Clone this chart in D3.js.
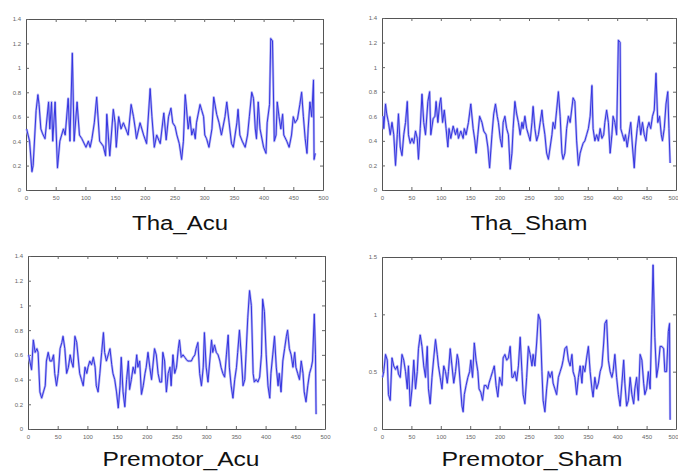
<!DOCTYPE html>
<html>
<head>
<meta charset="utf-8">
<script src="https://cdn.jsdelivr.net/npm/d3@7"></script>
<style>
  body { margin: 0; background: #fff; }
  svg { display: block; }
</style>
</head>
<body>
<script>
// values (x = sample index, y = amplitude)
var thaAcuX = [1,6,10,12,17,20,22,25,28,32,38,40,43,45,49,53,57,60,63,66,71,74,78,81,86,90,94,101,105,108,111,115,119,124,130,134,136,141,147,150,152,156,160,164,168,172,177,181,184,186,192,198,203,209,212,216,220,226,232,236,240,244,247,251,254,258,262,265,268,270,273,276,279,282,285,287,293,296,299,301,304,308,313,316,321,325,329,335,338,342,346,349,355,357,360,364,369,373,376,380,383,386,388,391,394,400,404,406,410,412,415,418,421,423,426,429,432,434,439,443,447,450,453,457,461,464,467,470,473,475,478,481,484,485,487];
var thaAcuY = [0.5,0.4,0.15,0.2,0.65,0.78,0.7,0.5,0.46,0.42,0.72,0.5,0.72,0.4,0.72,0.18,0.4,0.45,0.5,0.45,0.75,0.4,1.12,0.4,0.72,0.45,0.42,0.35,0.4,0.35,0.42,0.55,0.76,0.4,0.36,0.28,0.62,0.28,0.66,0.55,0.35,0.6,0.5,0.55,0.5,0.45,0.7,0.6,0.5,0.42,0.55,0.45,0.38,0.83,0.6,0.35,0.45,0.38,0.63,0.41,0.6,0.67,0.55,0.52,0.45,0.38,0.25,0.4,0.78,0.68,0.5,0.6,0.45,0.5,0.42,0.55,0.7,0.65,0.6,0.45,0.42,0.35,0.5,0.76,0.62,0.55,0.45,0.6,0.72,0.55,0.38,0.35,0.55,0.66,0.45,0.4,0.35,0.45,0.6,0.8,0.75,0.5,0.42,0.72,0.5,0.35,0.3,0.55,0.7,1.24,1.22,0.4,0.45,0.72,0.6,0.5,0.62,0.45,0.4,0.35,0.45,0.6,0.55,0.58,0.7,0.8,0.6,0.42,0.3,0.5,0.72,0.6,0.9,0.25,0.3];

var thaShamX = [2,3,6,8,11,14,17,20,23,26,28,31,34,37,40,43,45,48,51,54,57,60,62,65,68,71,74,78,81,83,87,90,92,95,98,100,103,106,109,112,114,117,121,125,128,130,134,138,140,143,147,151,155,158,160,163,166,170,173,177,180,183,187,190,193,196,198,201,204,206,209,212,215,218,221,223,226,229,232,235,238,240,243,246,249,252,255,257,260,263,266,269,272,274,277,280,283,286,289,291,294,297,300,303,306,308,311,314,317,320,325,328,331,334,337,340,342,345,348,351,354,357,359,362,365,368,371,374,377,379,382,385,388,391,393,396,399,402,405,406,409,412,414,417,420,423,426,429,431,434,437,440,443,446,449,451,454,457,460,463,466,469,472,475,477,480,483,486,488,490];
var thaShamY = [0.6,0.5,0.7,0.62,0.55,0.45,0.55,0.45,0.2,0.45,0.62,0.35,0.28,0.45,0.55,0.72,0.45,0.38,0.42,0.38,0.48,0.42,0.25,0.5,0.78,0.55,0.45,0.72,0.8,0.45,0.58,0.6,0.72,0.55,0.7,0.75,0.55,0.65,0.5,0.35,0.5,0.42,0.52,0.45,0.5,0.42,0.48,0.42,0.5,0.45,0.55,0.7,0.5,0.4,0.3,0.45,0.6,0.55,0.48,0.45,0.35,0.18,0.45,0.62,0.7,0.6,0.55,0.42,0.35,0.55,0.6,0.5,0.45,0.17,0.3,0.5,0.72,0.62,0.55,0.45,0.55,0.5,0.6,0.5,0.45,0.4,0.55,0.68,0.5,0.4,0.45,0.55,0.65,0.55,0.45,0.3,0.25,0.35,0.45,0.55,0.5,0.65,0.8,0.6,0.3,0.25,0.3,0.5,0.6,0.55,0.75,0.72,0.4,0.2,0.3,0.35,0.38,0.4,0.45,0.5,0.6,0.85,0.5,0.4,0.45,0.4,0.5,0.42,0.45,0.55,0.65,0.55,0.3,0.45,0.6,0.55,0.45,1.22,1.2,0.5,0.45,0.4,0.45,0.35,0.45,0.55,0.35,0.18,0.35,0.5,0.6,0.45,0.55,0.45,0.4,0.5,0.55,0.5,0.6,0.65,0.95,0.55,0.6,0.45,0.4,0.5,0.7,0.8,0.5,0.22];

var preAcuX = [1,3,6,9,12,15,17,20,23,26,29,31,34,37,40,43,45,48,51,54,57,59,62,65,68,71,73,76,79,82,85,87,90,93,96,99,101,104,107,110,113,115,118,121,124,127,129,132,135,138,141,143,146,149,152,155,157,160,163,166,169,171,174,177,180,183,185,188,191,194,197,199,202,205,208,211,213,216,219,222,225,227,230,233,236,239,241,244,247,250,253,255,258,261,264,267,269,272,275,278,281,283,286,289,292,295,297,300,303,306,309,311,314,317,320,323,325,328,331,334,337,339,342,345,348,351,353,356,359,362,365,367,370,373,376,379,381,384,387,390,393,395,398,401,404,407,409,412,415,418,421,423,426,429,432,435,437,440,443,446,449,451,454,457,460,463,465,468,471,474,477,479,482,484,485];
var preAcuY = [0.6,0.55,0.48,0.72,0.62,0.65,0.62,0.3,0.25,0.3,0.35,0.55,0.62,0.55,0.55,0.6,0.45,0.35,0.45,0.65,0.7,0.75,0.65,0.45,0.5,0.6,0.55,0.5,0.75,0.7,0.55,0.45,0.4,0.35,0.5,0.45,0.5,0.55,0.52,0.58,0.5,0.35,0.3,0.45,0.62,0.78,0.62,0.55,0.6,0.65,0.52,0.45,0.4,0.3,0.17,0.35,0.58,0.3,0.18,0.4,0.55,0.32,0.4,0.5,0.45,0.6,0.5,0.55,0.28,0.35,0.45,0.5,0.62,0.5,0.4,0.55,0.65,0.6,0.45,0.38,0.38,0.62,0.55,0.3,0.45,0.5,0.35,0.6,0.45,0.5,0.65,0.72,0.58,0.6,0.58,0.56,0.55,0.55,0.55,0.58,0.6,0.65,0.7,0.45,0.35,0.5,0.78,0.5,0.38,0.55,0.72,0.62,0.68,0.62,0.6,0.55,0.5,0.45,0.42,0.6,0.76,0.5,0.35,0.25,0.4,0.5,0.62,0.8,0.6,0.35,0.4,0.6,0.9,1.12,1.0,0.45,0.38,0.4,0.38,0.42,0.6,1.05,0.95,0.6,0.35,0.25,0.45,0.6,0.75,0.5,0.35,0.45,0.3,0.55,0.65,0.75,0.8,0.65,0.6,0.5,0.62,0.5,0.45,0.4,0.55,0.45,0.3,0.22,0.35,0.45,0.5,0.55,0.93,0.6,0.12];

var preShamX = [1,3,6,9,11,14,17,20,23,26,28,31,34,37,40,43,45,48,51,54,57,60,62,65,68,71,74,77,79,82,85,88,91,94,96,99,102,105,108,111,113,116,119,122,125,128,130,133,136,138,140,143,146,149,151,154,157,160,163,165,168,171,174,177,180,182,185,188,191,194,197,200,204,206,209,212,215,218,221,223,226,229,232,235,238,240,243,246,249,252,255,257,260,263,266,269,272,274,277,280,283,286,289,291,294,297,300,303,306,308,311,314,317,320,323,325,328,331,334,337,340,342,345,348,351,354,357,359,362,365,368,371,374,377,379,382,385,388,391,393,396,399,402,405,408,411,413,416,419,422,425,428,430,433,436,439,442,445,447,450,453,456,459,461,464,467,470,473,476,479,481,484,487,489,490];
var preShamY = [0.45,0.5,0.65,0.6,0.3,0.25,0.62,0.55,0.52,0.55,0.48,0.45,0.65,0.6,0.5,0.35,0.55,0.2,0.35,0.6,0.35,0.5,0.7,0.82,0.72,0.55,0.45,0.72,0.35,0.22,0.45,0.62,0.78,0.65,0.55,0.45,0.35,0.55,0.5,0.4,0.5,0.7,0.55,0.4,0.5,0.65,0.6,0.4,0.2,0.15,0.3,0.38,0.45,0.5,0.6,0.45,0.75,0.6,0.5,0.35,0.32,0.25,0.38,0.38,0.35,0.4,0.45,0.5,0.55,0.38,0.28,0.45,0.38,0.62,0.65,0.6,0.62,0.72,0.45,0.45,0.5,0.42,0.55,0.8,0.5,0.3,0.22,0.45,0.72,0.65,0.55,0.65,0.55,0.75,1.0,0.95,0.5,0.25,0.15,0.35,0.5,0.45,0.5,0.4,0.35,0.3,0.45,0.5,0.55,0.6,0.7,0.72,0.6,0.55,0.65,0.5,0.45,0.3,0.45,0.55,0.4,0.55,0.5,0.62,0.72,0.5,0.35,0.28,0.45,0.35,0.4,0.5,0.55,0.75,0.92,0.95,0.6,0.5,0.45,0.5,0.65,0.45,0.3,0.2,0.4,0.6,0.4,0.2,0.25,0.45,0.3,0.22,0.35,0.45,0.25,0.65,0.6,0.4,0.3,0.35,0.5,0.35,1.0,1.43,0.8,0.45,0.55,0.72,0.72,0.7,0.5,0.5,0.85,0.92,0.08];

var xTicks = [0, 50, 100, 150, 200, 250, 300, 350, 400, 450, 500];
var yTicksA = [0, 0.2, 0.4, 0.6, 0.8, 1, 1.2, 1.4];
var yTicksB = [0, 0.5, 1, 1.5];

var panels = [
  {title: "Tha_Acu", xs: thaAcuX, ys: thaAcuY, yMax: 1.4, yTicks: yTicksA,
   left: 26, right: 323, top: 19, bottom: 190, tx: 180, ty: 230, tw: 96},
  {title: "Tha_Sham", xs: thaShamX, ys: thaShamY, yMax: 1.4, yTicks: yTicksA,
   left: 382, right: 676, top: 18, bottom: 190, tx: 529, ty: 230, tw: 117},
  {title: "Premotor_Acu", xs: preAcuX, ys: preAcuY, yMax: 1.4, yTicks: yTicksA,
   left: 28, right: 325, top: 256, bottom: 429, tx: 181, ty: 466, tw: 157},
  {title: "Premotor_Sham", xs: preShamX, ys: preShamY, yMax: 1.5, yTicks: yTicksB,
   left: 382, right: 676, top: 257, bottom: 429, tx: 532, ty: 466, tw: 181}
];

var svg = d3.select("body").append("svg")
  .attr("width", 678)
  .attr("height", 471);

panels.forEach(function(p) {
  var x = d3.scaleLinear().domain([0, 500]).range([p.left, p.right]);
  var y = d3.scaleLinear().domain([0, p.yMax]).range([p.bottom, p.top]);
  var g = svg.append("g");

  // matlab style box with inward ticks on all four sides
  var axes = [
    {a: d3.axisBottom(x).tickValues(xTicks).tickFormat(d3.format("d")), t: "translate(0," + p.bottom + ")"},
    {a: d3.axisTop(x).tickValues(xTicks).tickFormat(""), t: "translate(0," + p.top + ")"},
    {a: d3.axisLeft(y).tickValues(p.yTicks).tickFormat(function(d) { return d; }), t: "translate(" + p.left + ",0)"},
    {a: d3.axisRight(y).tickValues(p.yTicks).tickFormat(""), t: "translate(" + p.right + ",0)"}
  ];
  axes.forEach(function(ax, i) {
    var ag = g.append("g")
      .attr("transform", ax.t)
      .call(ax.a.tickSizeInner(-3).tickSizeOuter(0).tickPadding(i < 2 ? 6 : 5));
    ag.select(".domain").attr("stroke", "#555");
    ag.selectAll(".tick line").attr("stroke", "#666");
    ag.selectAll("text")
      .style("font-family", "Liberation Sans, Arial, sans-serif")
      .style("font-size", "6px")
      .attr("fill", "#666");
  });

  // keep the last x label inside the picture on the right-hand panels
  if (p.right > 670) {
    g.selectAll(".tick text").filter(function(d) { return d === 500; })
      .attr("text-anchor", "end").attr("dx", 2);
  }

  var pts = p.xs.map(function(d, i) { return [d, p.ys[i]]; });
  var line = d3.line()
    .x(function(d) { return x(d[0]); })
    .y(function(d) { return y(d[1]); });

  g.append("path")
    .datum(pts)
    .attr("d", line)
    .attr("fill", "none")
    .attr("stroke", "#b4b4f4")
    .attr("stroke-width", 2.4)
    .attr("stroke-linejoin", "round");
  g.append("path")
    .datum(pts)
    .attr("d", line)
    .attr("fill", "none")
    .attr("stroke", "#3434e0")
    .attr("stroke-width", 1)
    .attr("stroke-linejoin", "round");

  g.append("text")
    .attr("x", p.tx - p.tw / 2)
    .attr("y", p.ty)
    .attr("textLength", p.tw)
    .attr("lengthAdjust", "spacingAndGlyphs")
    .style("font-family", "Liberation Sans, Arial, sans-serif")
    .style("font-size", "20px")
    .attr("fill", "#111")
    .text(p.title);
});
</script>
</body>
</html>
